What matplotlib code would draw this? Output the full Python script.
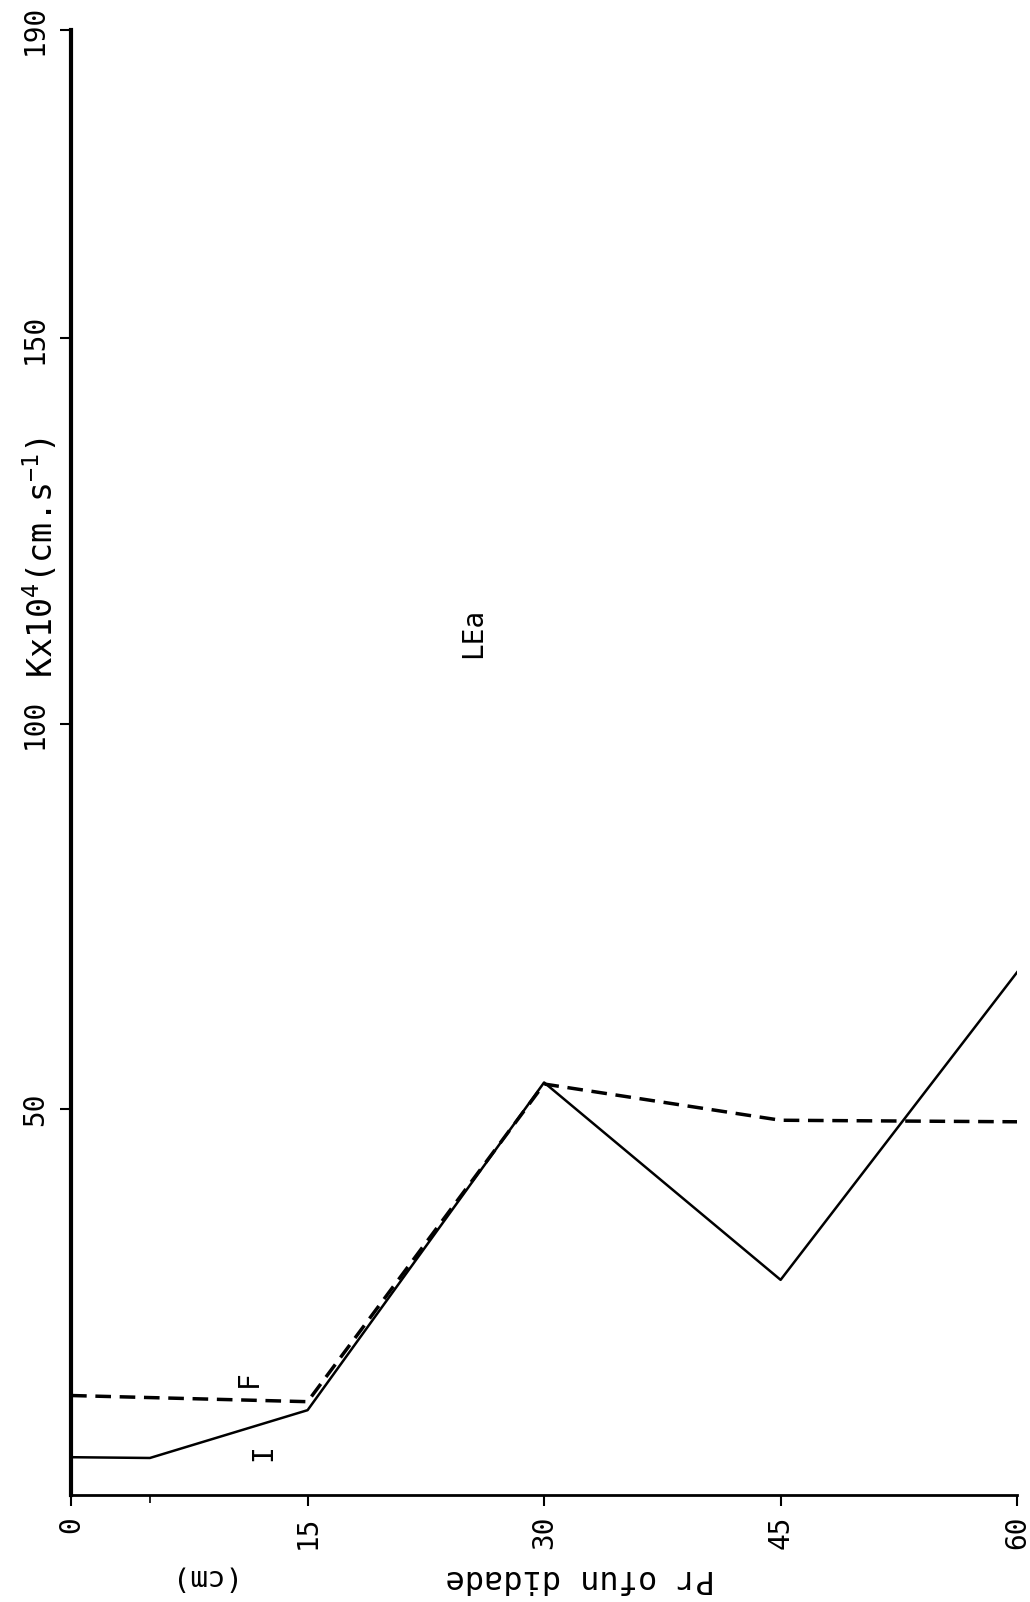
import matplotlib.pyplot as plt

plt.rcParams['font.family'] = 'DejaVu Sans Mono'
plt.rcParams['mathtext.default'] = 'regular'

# profundidade (cm)
depth = [0, 5, 15, 30, 45, 60]
k_inicial = [4.9, 4.8, 11.0, 53.5, 27.9, 67.8]   # curva I (linha cheia)
depth_f = [0, 15, 30, 45, 60]
k_final = [12.9, 12.1, 53.3, 48.6, 48.4]          # curva F (tracejada)

x_ticks = [0, 15, 30, 45, 60]
y_ticks = [50, 100, 150, 190]

fig = plt.figure(figsize=(10.3, 16.02), dpi=100)
ax = fig.add_axes([0.069, 0.0668, 0.9185, 0.9145])

ax.plot(depth, k_inicial, color='black', lw=1.8)
ax.plot(depth_f, k_final, color='black', lw=2.5, linestyle=(0, (4.5, 2.5)))

ax.set_xlim(0, 60)
ax.set_ylim(0, 190)

ax.spines['top'].set_visible(False)
ax.spines['right'].set_visible(False)
ax.spines['left'].set_linewidth(3)
ax.spines['bottom'].set_linewidth(2)

ax.set_xticks(x_ticks)
ax.set_xticklabels([str(v) for v in x_ticks], rotation=90, fontsize=20)
ax.set_xticks([5], minor=True)
ax.set_yticks(y_ticks)
ax.set_yticklabels([str(v) for v in y_ticks], rotation=90, va='center', fontsize=20)
ax.tick_params(axis='x', which='major', length=8, width=1.5, pad=7)
ax.tick_params(axis='x', which='minor', length=6, width=1.2)
ax.tick_params(axis='y', length=8, width=1.5, pad=8)

ax.set_ylabel(r'Kx10$^4$(cm.s$^{-1}$)', fontsize=24, rotation=90)
ax.yaxis.set_label_coords(-0.032, 0.64)
ax.yaxis.label.set_va('center')

ax.text(25.5, 111.8, 'LEa', rotation=90, ha='center', va='center', fontsize=20)
ax.text(11.3, 15.1, 'F', rotation=90, ha='center', va='center', fontsize=20)
ax.text(12.2, 5.5, 'I', rotation=90, ha='center', va='center', fontsize=20)

fig.text(580 / 1030, 1 - 1578 / 1602, 'Pr ofun didade', rotation=180,
         ha='center', va='center', fontsize=23)
fig.text(196 / 1030, 1 - 1578 / 1602, '(cm)', rotation=180,
         ha='center', va='center', fontsize=21)

plt.savefig('out.png', dpi=100)
